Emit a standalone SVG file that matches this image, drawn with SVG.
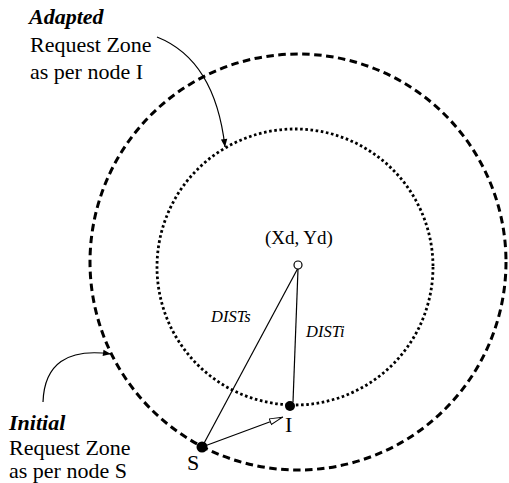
<svg xmlns="http://www.w3.org/2000/svg" width="509" height="483" viewBox="0 0 509 483">
<style>
.t{font-family:"Liberation Serif","Times New Roman",serif;font-size:22px;fill:#000}
.bi{font-weight:bold;font-style:italic}
.it{font-family:"Liberation Serif","Times New Roman",serif;font-style:italic;font-size:16.5px;fill:#000}
.ln{stroke:#000;stroke-width:1.2;fill:none}
</style>
<defs>
<marker id="ah" viewBox="0 0 10 10" refX="10" refY="5" markerWidth="10" markerHeight="8" markerUnits="userSpaceOnUse" orient="auto">
<path d="M0,1 L10,5 L0,9 Z" fill="#000"/>
</marker>
<marker id="oh" viewBox="0 0 14 8" refX="14" refY="4" markerWidth="14" markerHeight="8" markerUnits="userSpaceOnUse" orient="auto">
<path d="M0.5,1 L13.5,4 L0.5,7 Z" fill="#fff" stroke="#000" stroke-width="1"/>
</marker>
</defs>
<g id="outer-zone">
<circle cx="298" cy="262" r="208" fill="none" stroke="#000" stroke-width="3" stroke-dasharray="7.5 4.5"/>
</g>
<g id="inner-zone">
<circle cx="295" cy="267" r="138" fill="none" stroke="#000" stroke-width="2.8" stroke-dasharray="2.6 2.6"/>
</g>
<g id="connectors">
<path class="ln" d="M298,268 L202,447"/>
<path class="ln" d="M298,269 L293,402"/>
<path class="ln" d="M202,447 L283,417" marker-end="url(#oh)"/>
<path class="ln" d="M157,37 Q215,60 225,147" marker-end="url(#ah)"/>
<path class="ln" d="M43,402 Q45,345 111,354" marker-end="url(#ah)"/>
</g>
<g id="dest">
<circle cx="298" cy="265" r="4" fill="#fff" stroke="#000" stroke-width="1.2"/>
<text class="t" x="265" y="244" style="font-size:19px">(Xd, Yd)</text>
</g>
<g id="node-I">
<circle cx="290" cy="406" r="5" fill="#000"/>
<text class="t" x="285" y="432">I</text>
</g>
<g id="node-S">
<circle cx="202" cy="447" r="5.5" fill="#000"/>
<text class="t" x="187" y="470">S</text>
</g>
<g id="label-dists"><text class="it" x="211" y="322">DISTs</text></g>
<g id="label-disti"><text class="it" x="306" y="337">DISTi</text></g>
<g id="label-adapted">
<text class="t bi" x="29" y="24">Adapted</text>
<text class="t" x="30" y="52">Request Zone</text>
<text class="t" x="30" y="79">as per node I</text>
</g>
<g id="label-initial">
<text class="t bi" x="9" y="430">Initial</text>
<text class="t" x="9" y="455">Request Zone</text>
<text class="t" x="9" y="478">as per node S</text>
</g>
</svg>
